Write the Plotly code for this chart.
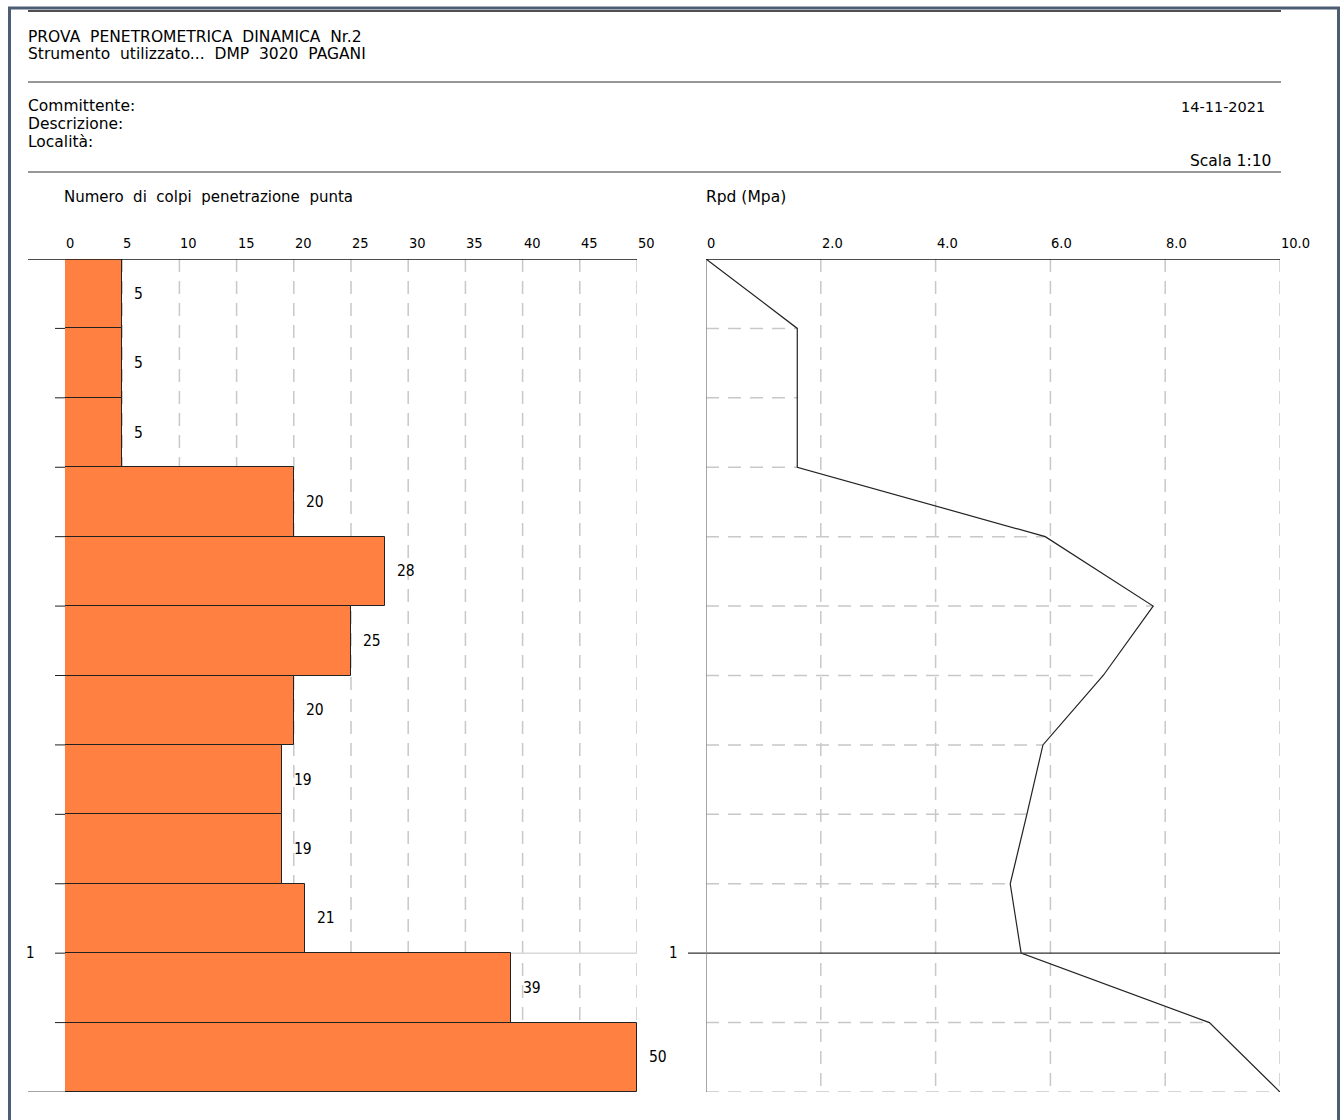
import plotly.graph_objects as go

# Page size in pixels
W, H = 1342, 1120

# Penetration test data (depth in metres, one reading every 0.10 m)
depth_from = [0.0, 0.1, 0.2, 0.3, 0.4, 0.5, 0.6, 0.7, 0.8, 0.9, 1.0, 1.1]
blows = [5, 5, 5, 20, 28, 25, 20, 19, 19, 21, 39, 50]

# Dynamic point resistance profile (MPa) at each depth node
rpd_depth = [0.0, 0.1, 0.2, 0.3, 0.4, 0.5, 0.6, 0.7, 0.8, 0.9, 1.0, 1.1, 1.2]
rpd = [0.0, 1.59, 1.59, 1.59, 5.91, 7.79, 6.92, 5.87, 5.59, 5.30, 5.49, 8.77, 10.0]

# Axis ticks
blow_ticks = [0, 5, 10, 15, 20, 25, 30, 35, 40, 45, 50]
blow_tick_text = ["0", "5", "10", "15", "20", "25", "30", "35", "40", "45", "50"]
rpd_ticks = [0, 2, 4, 6, 8, 10]
rpd_tick_text = ["0", "2.0", "4.0", "6.0", "8.0", "10.0"]
depth_labels = [1.0]
depth_max = 1.2

FONT = "DejaVu Sans, Verdana, sans-serif"
FONT_NUM = "DejaVu Sans Condensed, DejaVu Sans, sans-serif"
TXT = "#000000"
GRID = "#c8c8c8"
DASH = "13px,9px"
NB = "\u00a0"


def px(x):
    return x / W


def py(y):
    return 1 - y / H


def sp(s):
    # widen word spacing as in the report header
    return s.replace(" ", " " + NB)


fig = go.Figure()

# Blow-count bars
fig.add_trace(go.Bar(
    x=blows,
    y=[d + 0.05 for d in depth_from],
    width=0.1,
    orientation="h",
    marker=dict(color="#FF8040", line=dict(color="#222222", width=1)),
    xaxis="x", yaxis="y",
    hoverinfo="skip",
))

# Rpd profile line
fig.add_trace(go.Scatter(
    x=rpd, y=rpd_depth, mode="lines",
    line=dict(color="#222222", width=1.2),
    xaxis="x2", yaxis="y2",
    hoverinfo="skip",
))

shapes = []
annotations = []

# ---- page frame and header rules ----
shapes.append(dict(type="rect", xref="paper", yref="paper",
                   x0=px(9.5), x1=px(1338.5), y0=-0.05, y1=py(8),
                   line=dict(color="#4d5d73", width=3), layer="above"))
shapes.append(dict(type="line", xref="paper", yref="paper",
                   x0=px(28), x1=px(1281), y0=py(11), y1=py(11),
                   line=dict(color="#505050", width=2)))
for yy in (82, 172):
    shapes.append(dict(type="line", xref="paper", yref="paper",
                       x0=px(28), x1=px(1281), y0=py(yy), y1=py(yy),
                       line=dict(color="#303030", width=1)))


def text(x, y, s, anchor="left", size=15.5, family=FONT):
    annotations.append(dict(xref="paper", yref="paper", x=px(x), y=py(y),
                            text=s, showarrow=False, xanchor=anchor,
                            yanchor="middle", font=dict(family=family, size=size, color=TXT)))


text(26, 37, sp("PROVA PENETROMETRICA DINAMICA Nr.2"))
text(26, 54, sp("Strumento utilizzato... DMP 3020 PAGANI"))
text(26, 106, "Committente:")
text(26, 124, "Descrizione:")
text(26, 142, "Località:")
text(1267, 107, "14-11-2021", anchor="right", size=14.5)
text(1273, 161, "Scala 1:10", anchor="right")
text(62, 197, sp("Numero di colpi penetrazione punta"), size=15)
text(704, 197, "Rpd (Mpa)")

# ---- left panel: blow counts ----
for t in blow_ticks[1:]:
    shapes.append(dict(type="line", xref="x", yref="y", x0=t, x1=t, y0=0, y1=depth_max,
                       line=dict(color=GRID, width=1.5, dash=DASH), layer="below"))
# light rule at the 1 m mark across the panel
for d in depth_labels:
    shapes.append(dict(type="line", xref="x", yref="y", x0=0, x1=50, y0=d, y1=d,
                       line=dict(color="#d8d8d8", width=1.5), layer="below"))
# depth ticks on the left
for d in depth_from[1:]:
    shapes.append(dict(type="line", xref="paper", yref="y", x0=px(55), x1=px(65), y0=d, y1=d,
                       line=dict(color="#222222", width=1)))
shapes.append(dict(type="line", xref="paper", yref="y", x0=px(28), x1=px(65),
                   y0=depth_max, y1=depth_max, line=dict(color="#888888", width=1.5)))
shapes.append(dict(type="line", xref="x", yref="y", x0=0, x1=0, y0=0, y1=depth_max,
                   line=dict(color="#888888", width=1.5), layer="below"))
# top axis
shapes.append(dict(type="line", xref="paper", yref="y", x0=px(28), x1=px(637), y0=0, y1=0,
                   line=dict(color="#111111", width=1.5)))
for t, s in zip(blow_ticks, blow_tick_text):
    annotations.append(dict(xref="x", yref="paper", x=t, y=py(243), text=s, showarrow=False,
                            xanchor="left", yanchor="middle", xshift=-1,
                            font=dict(family=FONT_NUM, size=14.5, color=TXT)))
# value labels beside each bar
for d, b in zip(depth_from, blows):
    annotations.append(dict(xref="x", yref="y", x=b, y=d + 0.05, text=str(b), showarrow=False,
                            xanchor="left", yanchor="middle", xshift=10,
                            font=dict(family=FONT_NUM, size=15.5, color=TXT)))
for d in depth_labels:
    annotations.append(dict(xref="paper", yref="y", x=px(30), y=d, text=f"{d:g}", showarrow=False,
                            xanchor="center", yanchor="middle",
                            font=dict(family=FONT_NUM, size=15, color=TXT)))

# ---- right panel: Rpd ----
for t in rpd_ticks[1:]:
    shapes.append(dict(type="line", xref="x2", yref="y2", x0=t, x1=t, y0=0, y1=depth_max,
                       line=dict(color=GRID, width=1.5, dash=DASH), layer="below"))
for d, r in zip(rpd_depth[1:], rpd[1:]):
    if d in depth_labels:
        continue
    shapes.append(dict(type="line", xref="x2", yref="y2", x0=0, x1=r, y0=d, y1=d,
                       line=dict(color=GRID, width=1.5, dash=DASH), layer="below"))
for d in depth_labels:
    shapes.append(dict(type="line", xref="paper", yref="y2", x0=px(688), x1=px(1280), y0=d, y1=d,
                       line=dict(color="#333333", width=1.2)))
    annotations.append(dict(xref="paper", yref="y2", x=px(673), y=d, text=f"{d:g}", showarrow=False,
                            xanchor="center", yanchor="middle",
                            font=dict(family=FONT_NUM, size=15, color=TXT)))
shapes.append(dict(type="line", xref="x2", yref="y2", x0=0, x1=0, y0=0, y1=depth_max,
                   line=dict(color="#888888", width=1.5)))
shapes.append(dict(type="line", xref="x2", yref="y2", x0=0, x1=10, y0=0, y1=0,
                   line=dict(color="#111111", width=1.5)))
for t, s in zip(rpd_ticks, rpd_tick_text):
    annotations.append(dict(xref="x2", yref="paper", x=t, y=py(243), text=s, showarrow=False,
                            xanchor="left", yanchor="middle", xshift=-1,
                            font=dict(family=FONT_NUM, size=14.5, color=TXT)))

hidden = dict(showgrid=False, zeroline=False, showticklabels=False, showline=False, ticks="",
              fixedrange=True)
y_top, y_bot = py(259), py(1092)

fig.update_layout(
    width=W, height=H,
    margin=dict(l=0, r=0, t=0, b=0),
    paper_bgcolor="white", plot_bgcolor="rgba(0,0,0,0)",
    showlegend=False,
    bargap=0,
    xaxis=dict(domain=[px(65), px(637)], range=[0, 50], anchor="y", **hidden),
    yaxis=dict(domain=[y_bot, y_top], range=[depth_max, 0], anchor="x", **hidden),
    xaxis2=dict(domain=[px(706), px(1280)], range=[0, 10], anchor="y2", **hidden),
    yaxis2=dict(domain=[y_bot, y_top], range=[depth_max, 0], anchor="x2", **hidden),
    shapes=shapes,
    annotations=annotations,
)

fig.write_html("out.html")
